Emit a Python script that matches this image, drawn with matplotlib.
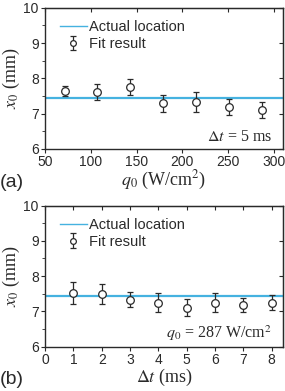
import matplotlib
matplotlib.use("Agg")
import matplotlib.pyplot as plt
from matplotlib.lines import Line2D
from matplotlib.ticker import MultipleLocator

# panel (a): x0 vs heat flux
q0 = [72, 107, 143, 179, 215, 251, 287]
x0_a = [7.65, 7.62, 7.76, 7.29, 7.33, 7.19, 7.10]
err_a = [0.14, 0.23, 0.23, 0.23, 0.29, 0.24, 0.22]

# panel (b): x0 vs time step
dt = [1, 2, 3, 4, 5, 6, 7, 8]
x0_b = [7.51, 7.50, 7.33, 7.25, 7.11, 7.25, 7.17, 7.25]
err_b = [0.31, 0.28, 0.21, 0.26, 0.23, 0.27, 0.20, 0.21]

actual = 7.445

plt.rcParams['font.family'] = ['Liberation Sans', 'DejaVu Sans']
plt.rcParams['mathtext.fontset'] = 'stix'
plt.rcParams['font.size'] = 10

dark = '#2a2a2a'
blue = '#45b2e0'
serif = 'Liberation Serif'

fig = plt.figure(figsize=(2.85, 3.91), dpi=100)
ax1 = fig.add_axes([0.158, 0.619, 0.835, 0.361])
ax2 = fig.add_axes([0.158, 0.1133, 0.835, 0.361])


def style(ax):
    for s in ax.spines.values():
        s.set_color(dark)
        s.set_linewidth(1.0)
    ax.tick_params(which='both', direction='out', colors=dark, labelsize=10,
                   pad=1.5)
    ax.tick_params(which='major', length=3)
    ax.tick_params(which='minor', length=2)
    ax.set_ylim(6, 10)
    ax.yaxis.set_major_locator(MultipleLocator(1))
    ax.yaxis.set_minor_locator(MultipleLocator(0.5))
    ax.set_ylabel(r'$x_0$ (mm)', family=serif, fontsize=13,
                  color=dark, labelpad=1)
    # inward ticks on top and right
    top = ax.secondary_xaxis('top')
    top.set_xticks(ax.get_xticks())
    top.tick_params(direction='in', length=3, labeltop=False, colors=dark)
    right = ax.secondary_yaxis('right')
    right.set_yticks([6, 7, 8, 9, 10])
    right.tick_params(direction='in', length=3, labelright=False, colors=dark)


def draw(ax, x, y, e):
    ax.axhline(actual, color=blue, lw=1.6, zorder=2)
    eb = ax.errorbar(x, y, yerr=e, fmt='o', mfc='white', mec=dark, ms=5.5,
                     mew=0.9, ecolor=dark, elinewidth=0.9, capsize=2,
                     capthick=0.9, zorder=3)
    line_h = Line2D([], [], color=blue, lw=1.0)
    ax.legend([line_h, eb], ['Actual location', 'Fit result'],
              loc='upper left', frameon=False, fontsize=10.5,
              handlelength=1.85, handletextpad=0.15, labelspacing=0.2,
              borderaxespad=0.3, bbox_to_anchor=(0.02, 0.985),
              labelcolor=dark, markerscale=0.75)


draw(ax1, q0, x0_a, err_a)
ax1.set_xlim(50, 310)
ax1.set_xticks([50, 100, 150, 200, 250, 300])
style(ax1)
ax1.set_xlabel(r'$q_0$ (W/cm$^2$)', family=serif, fontsize=13,
               color=dark, labelpad=0)
ax1.text(0.955, 0.087, r'$\Delta t$ = 5 ms', transform=ax1.transAxes,
         ha='right', va='center', family=serif, fontsize=11.5,
         color=dark)

draw(ax2, dt, x0_b, err_b)
ax2.set_xlim(0, 8.4)
ax2.set_xticks(range(0, 9))
style(ax2)
ax2.set_xlabel(r'$\Delta t$ (ms)', family=serif, fontsize=13,
               color=dark, labelpad=0)
ax2.text(0.955, 0.097, r'$q_0$ = 287 W/cm$^2$', transform=ax2.transAxes,
         ha='right', va='center', family=serif, fontsize=11.5,
         color=dark)

fig.text(0.0, 1 - 183 / 391, '(a)', fontsize=14, color=dark, va='center')
fig.text(0.0, 1 - 380 / 391, '(b)', fontsize=14, color=dark, va='center')

fig.savefig('out.png', dpi=100)
